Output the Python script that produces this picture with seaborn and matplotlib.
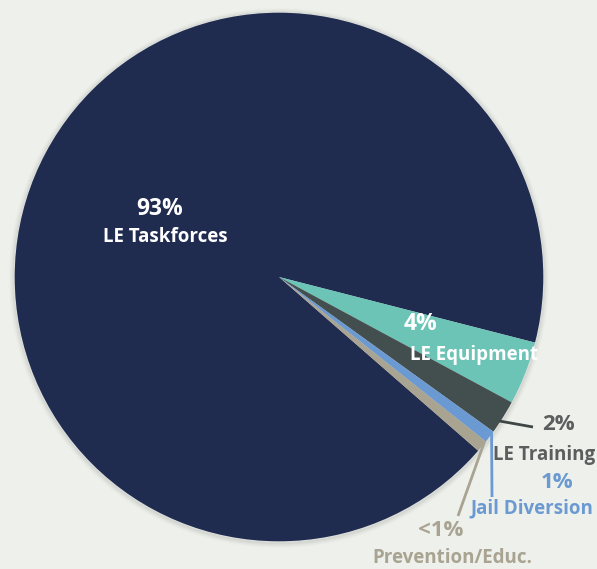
import numpy as np
import seaborn as sns
import matplotlib.pyplot as plt
from matplotlib.patches import Circle

# spending shares (percent)
categories = ["LE Taskforces", "LE Equipment", "LE Training", "Jail Diversion", "Prevention/Educ."]
shares = [92.57, 3.875, 2.08, 0.75, 0.72]
pct_labels = ["93%", "4%", "2%", "1%", "<1%"]
colors = ["#1f2b4f", "#6cc4b6", "#434f4f", "#6b9ad2", "#a9a391"]
text_colors = ["white", "white", "#5b5e5e", "#6b9ad2", "#a9a391"]

bg = "#eef0eb"
W, H = 597, 569

sns.set_theme(style="white")
plt.rcParams['font.family'] = ['Open Sans', 'DejaVu Sans']

fig = plt.figure(figsize=(W / 100, H / 100), dpi=100, facecolor=bg)
ax = fig.add_axes([0, 0, 1, 1])
ax.set_facecolor(bg)

def py(y):
    # pixel row -> data y
    return H - y

cx, cy, R = 279, py(277), 265

# soft shadow around the pie
for i, a in enumerate([0.05, 0.05, 0.04, 0.03, 0.02]):
    ax.add_patch(Circle((cx, cy - 1), R + 1 + i, color="#6a6f6a", alpha=a, lw=0, zorder=0))

# navy slice first, running clockwise so the small slices sit just below 3 o'clock
wedges, _ = ax.pie(shares, colors=colors, startangle=-41.1, counterclock=False,
                   center=(cx, cy), radius=R, frame=True,
                   wedgeprops=dict(linewidth=0))
ax.set_xlim(0, W)
ax.set_ylim(0, H)
ax.set_aspect("equal")
ax.axis("off")
ax.add_patch(Circle((cx, cy), R, fill=False, ec="#d9dcd8", lw=1.0, zorder=3))

# label positions (pixel coords): percent centre, name baseline
pct_pos = [(160, 209), (420, 324), (558, 425), (557, 482), (441, 530)]
name_pos = [(165, 242), (474, 360), (544, 460), (532, 513), (452, 563)]
pct_size = [16.5, 16.5, 16, 16, 16]
name_size = [13.5, 13.5, 13.5, 13.5, 13.5]

for i in range(len(categories)):
    x, y = pct_pos[i]
    ax.text(x, py(y), pct_labels[i], color=text_colors[i], fontsize=pct_size[i],
            fontweight="bold", ha="center", va="center", zorder=5)
    x, y = name_pos[i]
    ax.text(x, py(y), categories[i], color=text_colors[i], fontsize=name_size[i],
            fontweight="bold", ha="center", va="baseline", zorder=5)

# leader lines from the small slices to their labels
line_ends = {2: (533, 427), 3: (492, 497), 4: (458, 516)}
line_frac = {2: 0.35, 3: 0.9, 4: 1.0}
for i, (ex, ey) in line_ends.items():
    w = wedges[i]
    ang = np.deg2rad(w.theta1 + (w.theta2 - w.theta1) * line_frac[i])
    sx, sy = cx + (R - 2) * np.cos(ang), cy + (R - 2) * np.sin(ang)
    ax.plot([sx, ex], [sy, py(ey)], color=colors[i] if i != 2 else "#3f4646",
            lw=2, solid_capstyle="butt", zorder=4)

fig.savefig("out.png", dpi=100, facecolor=bg)
